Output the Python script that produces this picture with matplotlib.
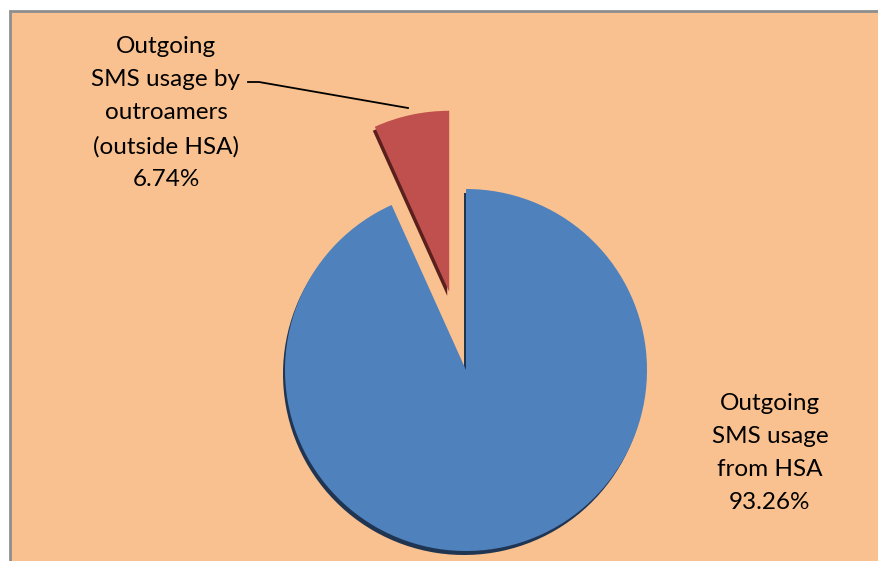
import matplotlib.pyplot as plt
from matplotlib.patches import Rectangle

labels = ['Outgoing\nSMS usage\nfrom HSA\n93.26%',
          'Outgoing\nSMS usage by\noutroamers\n(outside HSA)\n6.74%']
shares = [93.26, 6.74]
colors = ['#4F81BD', '#C0504D']
shadow_colors = ['#1F3552', '#5A201E']

W, H = 879, 561
center = (466, H - 370)
radius = 181
explode = [0, 80]  # pie() offsets wedges in data units

fig = plt.figure(figsize=(W / 100, H / 100), dpi=100, facecolor='white')
ax = fig.add_axes([0, 0, 1, 1])
ax.patch.set_visible(False)

# chart area background with grey frame
ax.add_patch(Rectangle((10, -20), W + 20, H - 11 + 20, facecolor='#F9C18F',
                       edgecolor='#8E8E8E', linewidth=2, zorder=-5,
                       clip_on=False))

# shadow (offset a few pixels down)
ax.pie(shares, colors=shadow_colors, startangle=90, counterclock=False,
       explode=explode, center=(center[0] - 2, center[1] - 4), radius=radius,
       frame=True, wedgeprops=dict(linewidth=0, zorder=1))
ax.pie(shares, colors=colors, startangle=90, counterclock=False,
       explode=explode, center=center, radius=radius,
       frame=True, wedgeprops=dict(linewidth=0, zorder=2))

ax.set_xlim(0, W)
ax.set_ylim(0, H)
ax.axis('off')

font = dict(family='Lato', fontsize=17.5, ha='center', va='center',
            linespacing=1.72, color='black')
ax.text(166, H - 113, labels[1], **font)
ax.text(770, H - 453, labels[0], **font)

ax.plot([248, 259, 408], [H - 82, H - 82, H - 108], color='black', lw=1.3)

fig.savefig('out.png', dpi=100, facecolor=fig.get_facecolor())
